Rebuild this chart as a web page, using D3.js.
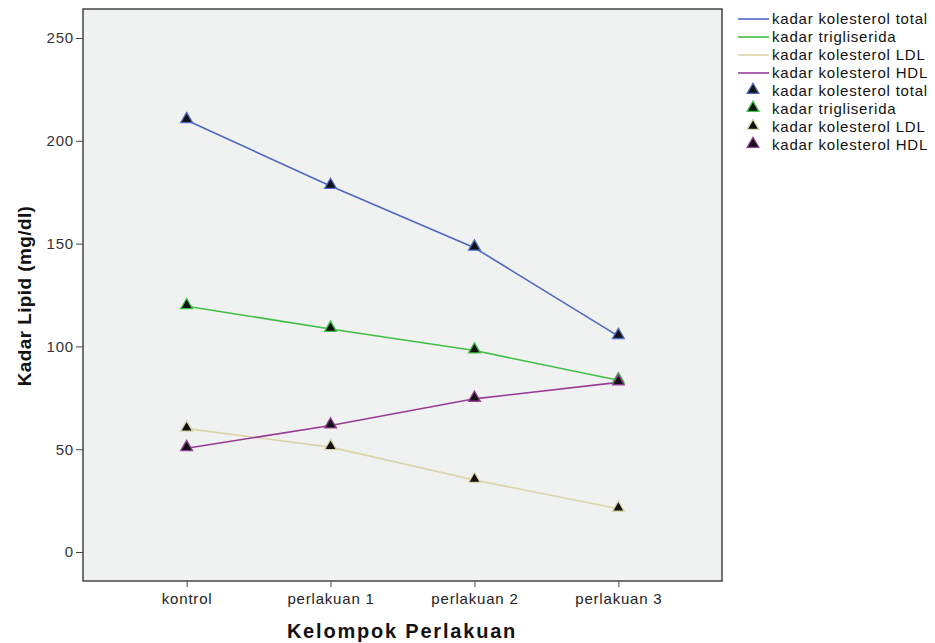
<!DOCTYPE html>
<html><head><meta charset="utf-8">
<script src="https://cdn.jsdelivr.net/npm/d3@7"></script>
<style>
body{margin:0;background:#fff;}
text{font-family:"Liberation Sans",Arial,sans-serif;}
</style></head>
<body>
<svg id="c" width="935" height="643"></svg>
<script>
const categories = ["kontrol","perlakuan 1","perlakuan 2","perlakuan 3"];
const seriesNames = ["kadar kolesterol total","kadar trigliserida","kadar kolesterol LDL","kadar kolesterol HDL"];
const totalVals = [210, 178, 148, 105];
const trigVals = [119.5, 108.5, 98, 83.5];
const ldlVals = [60, 51, 35, 21];
const hdlVals = [50.5, 61.5, 74.5, 82.5];
const yTicks = [0, 50, 100, 150, 200, 250];
const colors = ["#4d68c2", "#3fbf45", "#d9d5a6", "#963c96"];
const seriesVals = [totalVals, trigVals, ldlVals, hdlVals];

const svg = d3.select("#c");
const L = 83, R = 722, T = 9, B = 581;
const x = d3.scalePoint().domain(categories).range([L, R]).padding(0.72);
const y = d3.scaleLinear().domain([-14.1, 264.1]).range([B, T]);

svg.append("rect").attr("x", L).attr("y", T).attr("width", R - L).attr("height", B - T)
  .attr("fill", "#f0f1f1").attr("stroke", "#444").attr("stroke-width", 1.5);

const yAxis = svg.append("g").attr("transform", `translate(${L},0)`)
  .call(d3.axisLeft(y).tickValues(yTicks).tickSize(7).tickPadding(2));
yAxis.select(".domain").remove();
yAxis.selectAll("text").attr("font-size", 15).attr("letter-spacing", 0.8).attr("fill", "#333");
yAxis.selectAll("line").attr("stroke", "#444");

const xAxis = svg.append("g").attr("transform", `translate(0,${B})`)
  .call(d3.axisBottom(x).tickSize(6).tickPadding(6));
xAxis.select(".domain").remove();
xAxis.selectAll("text").attr("font-size", 15).attr("letter-spacing", 0.8).attr("fill", "#222");
xAxis.selectAll("line").attr("stroke", "#444");

svg.append("text").attr("transform", "translate(31,296) rotate(-90)")
  .attr("text-anchor", "middle").attr("font-size", 19).attr("font-weight", "bold")
  .attr("letter-spacing", 0.4).attr("fill", "#111").text("Kadar Lipid (mg/dl)");
svg.append("text").attr("x", 402).attr("y", 638).attr("text-anchor", "middle")
  .attr("font-size", 20).attr("font-weight", "bold").attr("fill", "#111")
  .attr("letter-spacing", 1.8).text("Kelompok Perlakuan");

const line = d3.line().x((d, i) => x(categories[i])).y(d => y(d));
const tri = d3.symbol().type(d3.symbolTriangle).size(60);

seriesVals.forEach((vals, s) => {
  svg.append("path").datum(vals).attr("d", line).attr("fill", "none")
    .attr("stroke", colors[s]).attr("stroke-width", 1.6);
});
seriesVals.forEach((vals, s) => {
  svg.selectAll(null).data(vals).enter().append("path")
    .attr("d", tri)
    .attr("transform", (d, i) => `translate(${x(categories[i])},${y(d) - 1})`)
    .attr("fill", "#111").attr("stroke", colors[s]).attr("stroke-width", 1.3);
});

// legend
const lg = svg.append("g");
seriesNames.forEach((n, i) => {
  const yy = 19 + i * 18;
  lg.append("line").attr("x1", 738).attr("x2", 769).attr("y1", yy).attr("y2", yy)
    .attr("stroke", colors[i]).attr("stroke-width", 1.6);
  lg.append("text").attr("x", 772).attr("y", yy + 5).attr("font-size", 15)
    .attr("letter-spacing", 0.8).attr("fill", "#111").text(n);
});
seriesNames.forEach((n, i) => {
  const yy = 19 + (i + 4) * 18;
  lg.append("path").attr("d", tri).attr("transform", `translate(753,${yy - 1})`)
    .attr("fill", "#111").attr("stroke", colors[i]).attr("stroke-width", 1.3);
  lg.append("text").attr("x", 772).attr("y", yy + 5).attr("font-size", 15)
    .attr("letter-spacing", 0.8).attr("fill", "#111").text(n);
});
</script>
</body></html>
